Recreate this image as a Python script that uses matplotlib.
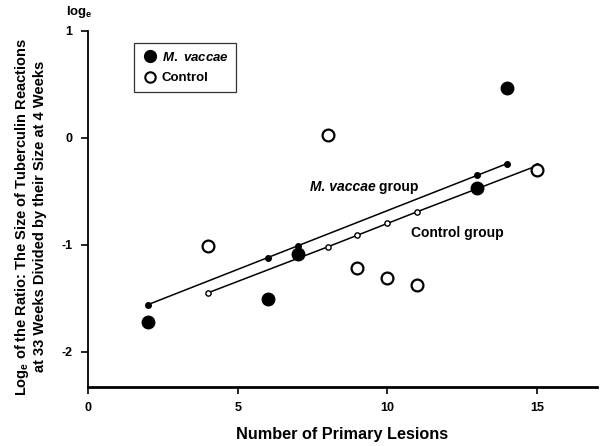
import matplotlib
matplotlib.use("Agg")
import matplotlib.pyplot as plt
from matplotlib.lines import Line2D

plt.rcParams['font.family'] = ['Liberation Sans', 'DejaVu Sans']
plt.rcParams['font.weight'] = 'bold'
plt.rcParams['axes.unicode_minus'] = False
plt.rcParams['mathtext.fontset'] = 'custom'
plt.rcParams['mathtext.bf'] = 'Liberation Sans:bold'
plt.rcParams['mathtext.rm'] = 'Liberation Sans:bold'
plt.rcParams['mathtext.it'] = 'Liberation Sans:bold:italic'
plt.rcParams['mathtext.default'] = 'bf'

# observed points
vaccae_x = [2, 6, 7, 13, 14]
vaccae_y = [-1.72, -1.51, -1.09, -0.47, 0.47]
control_x = [4, 8, 9, 10, 11, 15]
control_y = [-1.01, 0.03, -1.22, -1.31, -1.38, -0.30]

# fitted values (regression lines)
vaccae_fit_x = [2, 6, 7, 13, 14]
vaccae_fit_y = [-1.56, -1.12, -1.01, -0.35, -0.24]
control_fit_x = [4, 8, 9, 10, 11, 15]
control_fit_y = [-1.45, -1.02, -0.91, -0.80, -0.69, -0.26]

x_ticks = [0, 5, 10, 15]
y_ticks = [1, 0, -1, -2]

fig = plt.figure(figsize=(6.1, 4.46), dpi=100)
ax = fig.add_axes([0.1443, 0.1323, 0.8344, 0.7982])

ax.plot(vaccae_fit_x, vaccae_fit_y, '-', color='black', linewidth=1.1,
        marker='o', markersize=4, markerfacecolor='black', markeredgecolor='black', zorder=2)
ax.plot(control_fit_x, control_fit_y, '-', color='black', linewidth=1.1,
        marker='o', markersize=3.8, markerfacecolor='white', markeredgecolor='black',
        markeredgewidth=1.0, zorder=2)

ax.plot(vaccae_x, vaccae_y, 'o', markersize=9, markerfacecolor='black',
        markeredgecolor='black', zorder=3)
ax.plot(control_x, control_y, 'o', markersize=8.5, markerfacecolor='white',
        markeredgecolor='black', markeredgewidth=1.6, zorder=3)

# group labels
t1 = ax.text(7.4, -0.46, 'M. vaccae', fontsize=10, fontweight='bold', style='italic',
             va='center', ha='left')
ax.annotate(' group', xy=(1, 0.5), xycoords=t1, fontsize=10, fontweight='bold',
            va='center', ha='left')
ax.text(10.8, -0.89, 'Control group', fontsize=10, fontweight='bold',
        va='center', ha='left')

handles = [
    Line2D([], [], linestyle='none', marker='o', markersize=8.5,
           markerfacecolor='black', markeredgecolor='black'),
    Line2D([], [], linestyle='none', marker='o', markersize=7.5,
           markerfacecolor='white', markeredgecolor='black', markeredgewidth=1.5),
]
leg = ax.legend(handles, [r'$\mathit{M.\ vaccae}$', 'Control'], loc='upper left',
                bbox_to_anchor=(0.09, 0.966), borderaxespad=0, frameon=True,
                fancybox=False, edgecolor='black', fontsize=9.5, handletextpad=0.3,
                borderpad=0.6, labelspacing=0.6, handlelength=1.2)
leg.get_frame().set_linewidth(0.9)

ax.set_xlim(0, 17)
ax.set_ylim(-2.33, 1)
ax.set_xticks(x_ticks)
ax.set_yticks(y_ticks)
ax.set_xticklabels([str(t) for t in x_ticks], fontsize=9, fontweight='bold')
ax.set_yticklabels([str(t) for t in y_ticks], fontsize=9, fontweight='bold')
ax.tick_params(axis='both', direction='out', length=5, width=1.2, pad=6)

for side in ['top', 'right']:
    ax.spines[side].set_visible(False)
ax.spines['left'].set_linewidth(1.3)
ax.spines['bottom'].set_linewidth(2.0)

ax.set_xlabel('Number of Primary Lesions', fontsize=11.7, fontweight='bold', labelpad=9)
ax.set_ylabel('Log$_e$ of the Ratio: The Size of Tuberculin Reactions\n'
              'at 33 Weeks Divided by their Size at 4 Weeks',
              fontsize=10.5, fontweight='bold', linespacing=1.2)
ax.yaxis.set_label_coords(-0.08, 0.478)

fig.text(0.108, 0.972, 'log$_e$', fontsize=9.5, fontweight='bold', ha='left', va='center')

fig.savefig('out.png', dpi=100)
